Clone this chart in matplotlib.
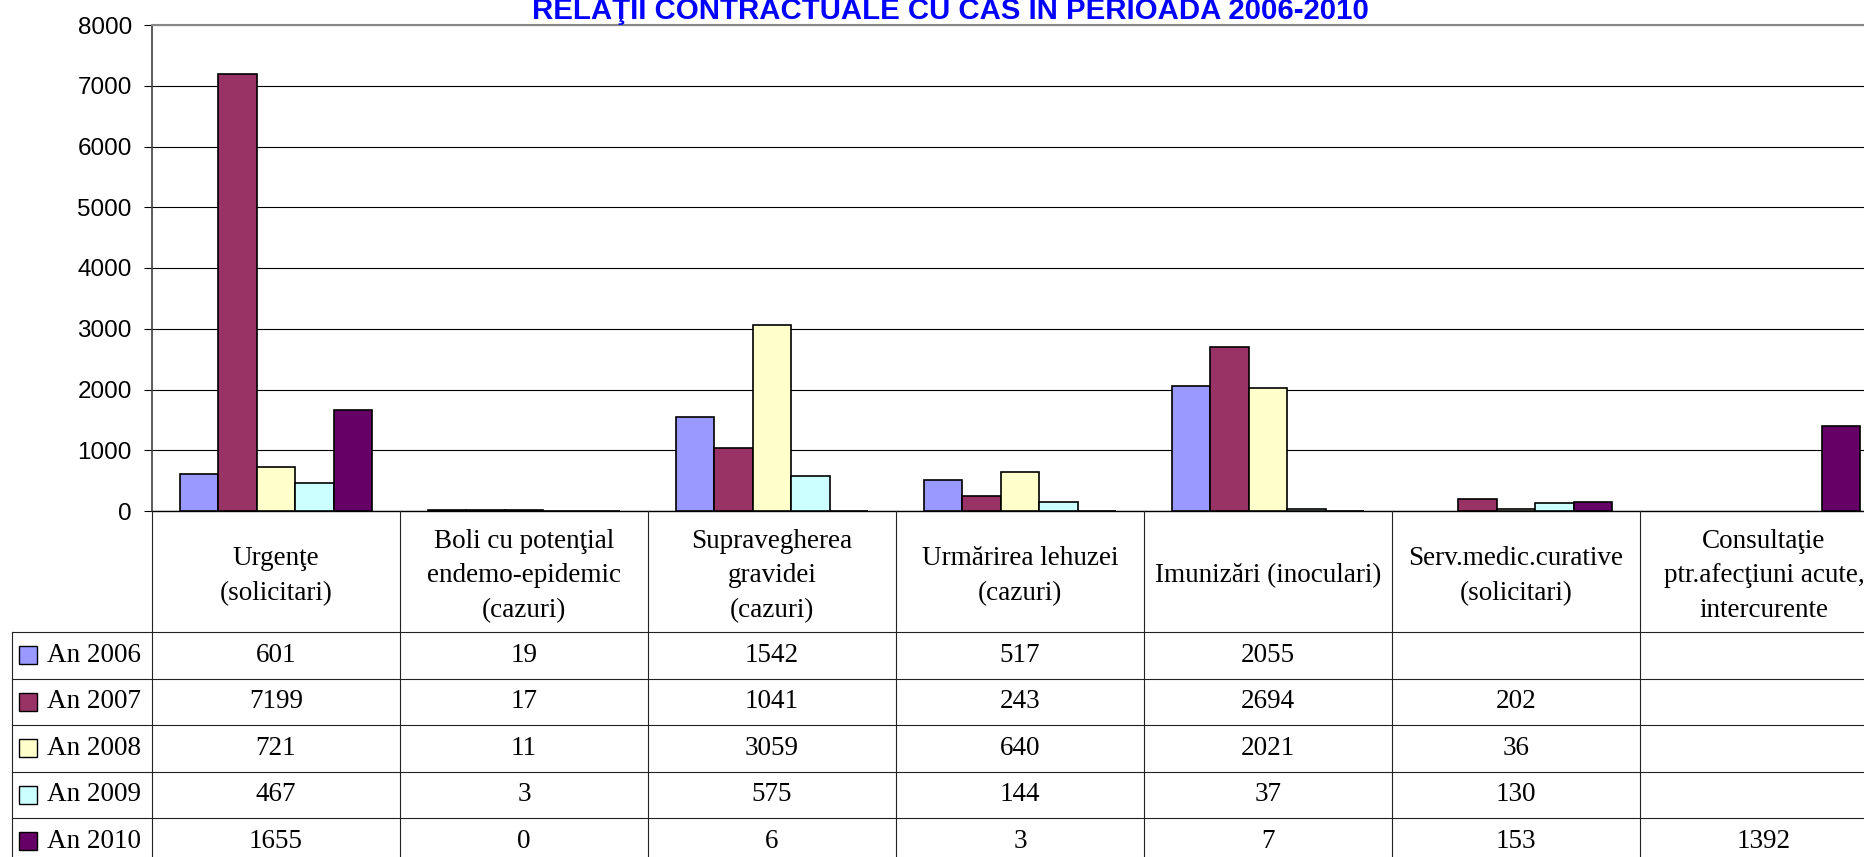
import numpy as np
import matplotlib
matplotlib.use('Agg')
import matplotlib.pyplot as plt
from matplotlib.lines import Line2D
from matplotlib.patches import Rectangle

nan = np.nan

categories = ['Urgen\u0163e\n(solicitari)',
              'Boli cu poten\u0163ial\nendemo-epidemic\n(cazuri)',
              'Supravegherea\ngravidei\n(cazuri)',
              'Urm\u0103rirea lehuzei\n(cazuri)',
              'Imuniz\u0103ri (inoculari)',
              'Serv.medic.curative\n(solicitari)',
              'Consulta\u0163ie\nptr.afec\u0163iuni acute,\nintercurente']
series = ['An 2006', 'An 2007', 'An 2008', 'An 2009', 'An 2010']
an2006 = [601, 19, 1542, 517, 2055, nan, nan]
an2007 = [7199, 17, 1041, 243, 2694, 202, nan]
an2008 = [721, 11, 3059, 640, 2021, 36, nan]
an2009 = [467, 3, 575, 144, 37, 130, nan]
an2010 = [1655, 0, 6, 3, 7, 153, 1392]
values = [an2006, an2007, an2008, an2009, an2010]
colors = ['#9999FF', '#993366', '#FFFFCC', '#CCFFFF', '#660066']
yticks = np.arange(0, 8001, 1000)

# figure size in pixels
W, H = 1865, 857
def fx(x):
    return x / W
def fy(y):
    return 1 - y / H

# layout (pixels)
ax_left, col_w = 152, 248
ax_top, ax_bot = 25, 511
tab_left = 12
head_bot = 632
row_h = 46.5

fig = plt.figure(figsize=(W / 100, H / 100), dpi=100)
ax = fig.add_axes([fx(ax_left), fy(ax_bot), len(categories) * col_w / W, (ax_bot - ax_top) / H])

x = np.arange(len(categories)) + 0.5
bw = 0.155
for j in range(len(series)):
    ax.bar(x + (j - 2) * bw, values[j], width=bw, color=colors[j],
           edgecolor='black', linewidth=1.2, zorder=3)

ax.set_xlim(0, len(categories))
ax.set_ylim(0, 8000)
ax.set_yticks(yticks)
ax.set_xticks([])
ax.yaxis.grid(True, color='black', linewidth=0.8, zorder=0)
ax.tick_params(axis='y', direction='out', length=6, width=0.8, pad=8.5,
               labelsize=17.5)
for lab in ax.get_yticklabels():
    lab.set_family('Liberation Sans')
ax.spines['top'].set_color('#888888')
ax.spines['top'].set_linewidth(1.5)
ax.spines['left'].set_color('#404040')
ax.spines['left'].set_linewidth(1.2)
ax.spines['bottom'].set_color('black')
ax.spines['bottom'].set_linewidth(1.0)
ax.spines['right'].set_visible(False)

fig.text(fx(950), fy(19), 'RELA\u0162II CONTRACTUALE CU CAS IN PERIOADA 2006-2010',
         ha='center', va='baseline', color='#0000FF', fontsize=21.2,
         fontweight='bold', family='Liberation Sans')

# data table under the chart
tab_right = ax_left + len(categories) * col_w
lc = '#222222'
lw = 0.8
for i in range(len(series)):
    yy = head_bot + i * row_h
    fig.add_artist(Line2D([fx(tab_left), fx(tab_right)], [fy(yy), fy(yy)],
                          transform=fig.transFigure, color=lc, lw=lw))
fig.add_artist(Line2D([fx(tab_left), fx(tab_left)], [fy(head_bot), 0],
                      transform=fig.transFigure, color=lc, lw=lw))
for i in range(len(categories) + 1):
    xx = ax_left + i * col_w
    fig.add_artist(Line2D([fx(xx), fx(xx)], [fy(ax_bot), 0],
                          transform=fig.transFigure, color=lc, lw=lw))

serif = 'Liberation Serif'
for i, cat in enumerate(categories):
    fig.text(fx(ax_left + (i + 0.5) * col_w), fy(576), cat,
             ha='center', va='center', multialignment='center',
             fontsize=19.5, family=serif, linespacing=1.52)

for j, name in enumerate(series):
    yc = head_bot + (j + 0.5) * row_h
    fig.add_artist(Rectangle((fx(19), fy(yc + 9)), 18 / W, 18 / H,
                             transform=fig.transFigure, facecolor=colors[j],
                             edgecolor='black', lw=1.0))
    fig.text(fx(47), fy(yc), name, ha='left', va='center', fontsize=19.5, family=serif)
    for i, v in enumerate(values[j]):
        if np.isnan(v):
            continue
        fig.text(fx(ax_left + (i + 0.5) * col_w), fy(yc), '%d' % v,
                 ha='center', va='center', fontsize=19.5, family=serif)

fig.savefig('out.png', dpi=100)
